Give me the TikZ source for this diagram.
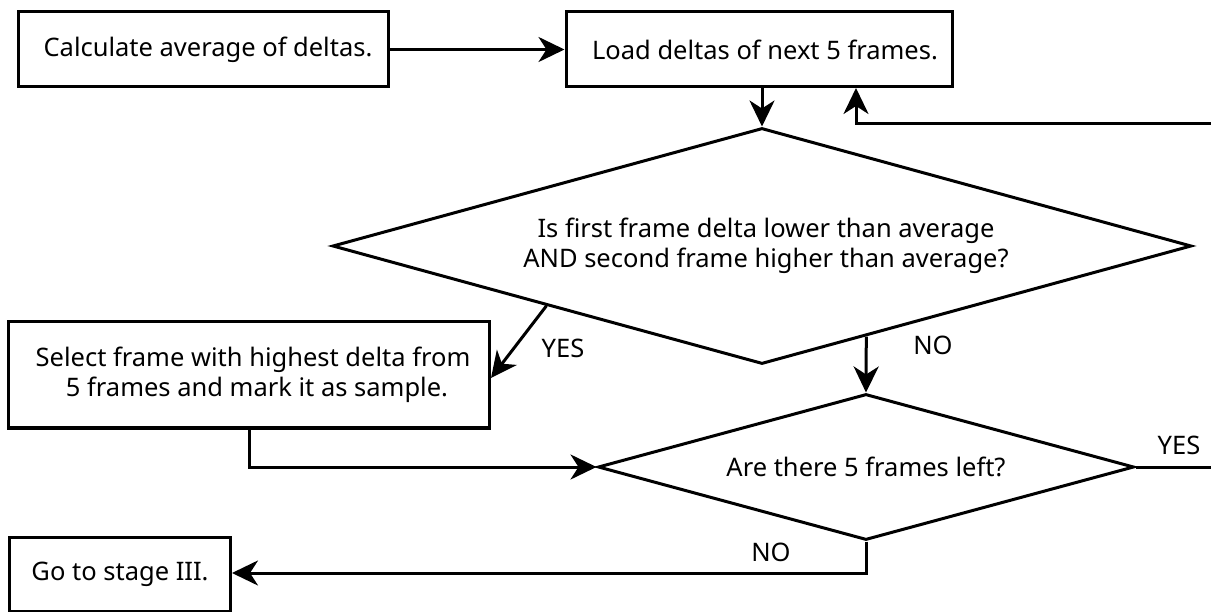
\documentclass[tikz,border=0pt]{standalone}
\usepackage{fontspec}
\setmainfont{Noto Sans}
\usetikzlibrary{shapes.geometric,arrows.meta,calc}
\begin{document}
\begin{tikzpicture}[x=1pt,y=-1pt,
  txt/.style={font=\fontsize{25.5}{30}\selectfont},
  box/.style={txt, draw, line width=3pt, rectangle, inner sep=0pt, align=center},
  dec/.style={txt, draw, line width=3pt, diamond, inner sep=0pt, align=center},
  conn/.style={line width=3pt, -{Stealth[length=26pt,width=25pt,inset=8pt]}},
  lbl/.style={txt, inner sep=0pt}]
\useasboundingbox (0,0) rectangle (1211,612);
\clip (0,0) rectangle (1211,612);
\node[box, minimum width=370pt, minimum height=75pt] (A) at (203,49.5) {\hspace*{10pt}Calculate average of deltas.};
\node[box, minimum width=386pt, minimum height=75pt] (B) at (759,49.5) {\hspace*{12pt}Load deltas of next 5 frames.};
\node[dec, minimum width=859pt, minimum height=236pt, shape aspect=3.64] (D1) at (762,246)
  {\hspace*{8pt}Is first frame delta lower than average\\\hspace*{8pt}AND second frame higher than average?};
\node[box, minimum width=481pt, minimum height=106pt] (C) at (249,375)
  {\hspace*{8pt}Select frame with highest delta from\\\hspace*{16pt}5 frames and mark it as sample.};
\node[dec, minimum width=536pt, minimum height=146pt, shape aspect=3.67] (D2) at (866,467)
  {Are there 5 frames left?};
\node[box, minimum width=221pt, minimum height=74pt] (E) at (120,574) {Go to stage III.};
\coordinate (loopR) at (1240,0);
\coordinate (noStart) at ($(D1.south)!0.242!(D1.east)$);
\draw[conn] (A.east) -- (B.west);
\draw[conn] (D1.north |- B.south) -- (D1.north);
\draw[conn] (D1.south west) -- ([yshift=-3pt]C.east);
\node[lbl] (yes1) at (563,348) {YES};
\draw[conn] (noStart) -- (D2.north);
\node[lbl] (no1) at (933,345) {NO};
\draw[conn] (C.south) |- (D2.west);
\draw[conn] (D2.east) -| (loopR |- 0,124) -| (856,124) -- (856,88);
\node[lbl] (yes2) at (1179,445) {YES};
\draw[conn] (D2.south) -- (D2.south |- 0,573) -- (E.east |- 0,573);
\node[lbl] (no2) at (771,552) {NO};
\end{tikzpicture}
\end{document}
